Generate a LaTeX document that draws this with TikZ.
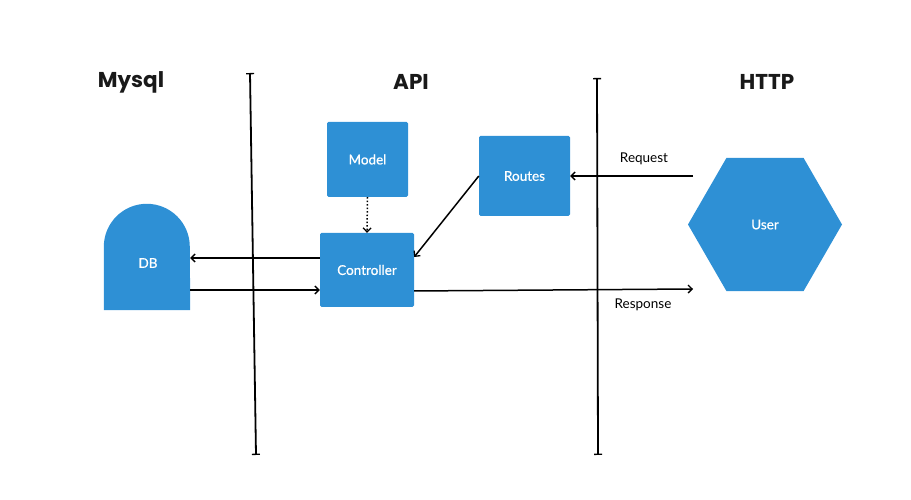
\documentclass[tikz,border=0pt]{standalone}
\usepackage{fontspec}
\setmainfont{Lato}
\newfontfamily\titlefont{Poppins}
\newfontfamily\boxfont{Lato}[FakeBold=0.6]
\usetikzlibrary{arrows.meta,shapes.geometric}
\definecolor{boxblue}{RGB}{46,144,213}
\begin{document}
\begin{tikzpicture}
  [x=1pt,y=1pt,
   box/.style={rectangle,fill=boxblue,text=white,rounded corners=1.5pt,inner sep=0pt,font=\boxfont\fontsize{13.5}{16}\selectfont},
   title/.style={font=\titlefont\bfseries\fontsize{21.5}{26}\selectfont,text=black!90},
   arr/.style={line width=1.5pt,-{Straight Barb[length=4pt,width=8pt,line width=1.3pt]}},
   lane/.style={line width=1.8pt,{Bar[width=8pt,line width=1.3pt]}-{Bar[width=8pt,line width=1.3pt]}},
   lbl/.style={font=\fontsize{13.5}{16}\selectfont}]
  \useasboundingbox (0,0) rectangle (911,500);

  \node[title] (mysql) at (131,418) {Mysql};
  \node[title] (api) at (411,418) {API};
  \node[title] (http) at (767,418) {HTTP};

  \coordinate (l1top) at (250,427);
  \coordinate (l1bot) at (256,45);
  \coordinate (l2top) at (597,422);
  \coordinate (l2bot) at (598,45);
  \draw[lane] (l1top) -- (l1bot);
  \draw[lane] (l2top) -- (l2bot);

  \node[minimum width=86pt,minimum height=106pt,inner sep=0pt] (db) at (147,243) {};
  \fill[boxblue] (db.south west) -- ([yshift=-43pt]db.north west)
    arc[start angle=180,end angle=0,radius=43pt] -- (db.south east) -- cycle;
  \node[text=white,font=\boxfont\fontsize{13.5}{16}\selectfont] (dbtext) at (148,237) {DB};

  \node[box,minimum width=81pt,minimum height=75pt] (model) at (367.5,340.5) {Model};
  \node[box,minimum width=91pt,minimum height=80pt] (routes) at (524.5,324) {Routes};
  \node[box,minimum width=94pt,minimum height=74pt] (ctrl) at (367,230) {Controller};
  \node[regular polygon,regular polygon sides=6,minimum size=154pt,inner sep=0pt,
        fill=boxblue,text=white,font=\boxfont\fontsize{13.5}{16}\selectfont] (user) at (765,275.5) {User};

  \coordinate (req) at (693,324);
  \coordinate (resp) at (693,211);

  \draw[arr] ([yshift=12pt]ctrl.west) -- (db.east |- 0,242);
  \draw[arr] (db.east |- 0,210) -- ([yshift=-20pt]ctrl.west);
  \draw[arr,dotted] (model.south) -- (ctrl.north);
  \draw[arr] (routes.west) -- ([yshift=13pt]ctrl.east);
  \draw[arr] (req) -- (routes.east);
  \draw[arr] ([yshift=-21pt]ctrl.east) -- (resp);

  \node[lbl] (reqlbl) at (644,341) {Request};
  \node[lbl] (resplbl) at (643,195) {Response};
\end{tikzpicture}
\end{document}
